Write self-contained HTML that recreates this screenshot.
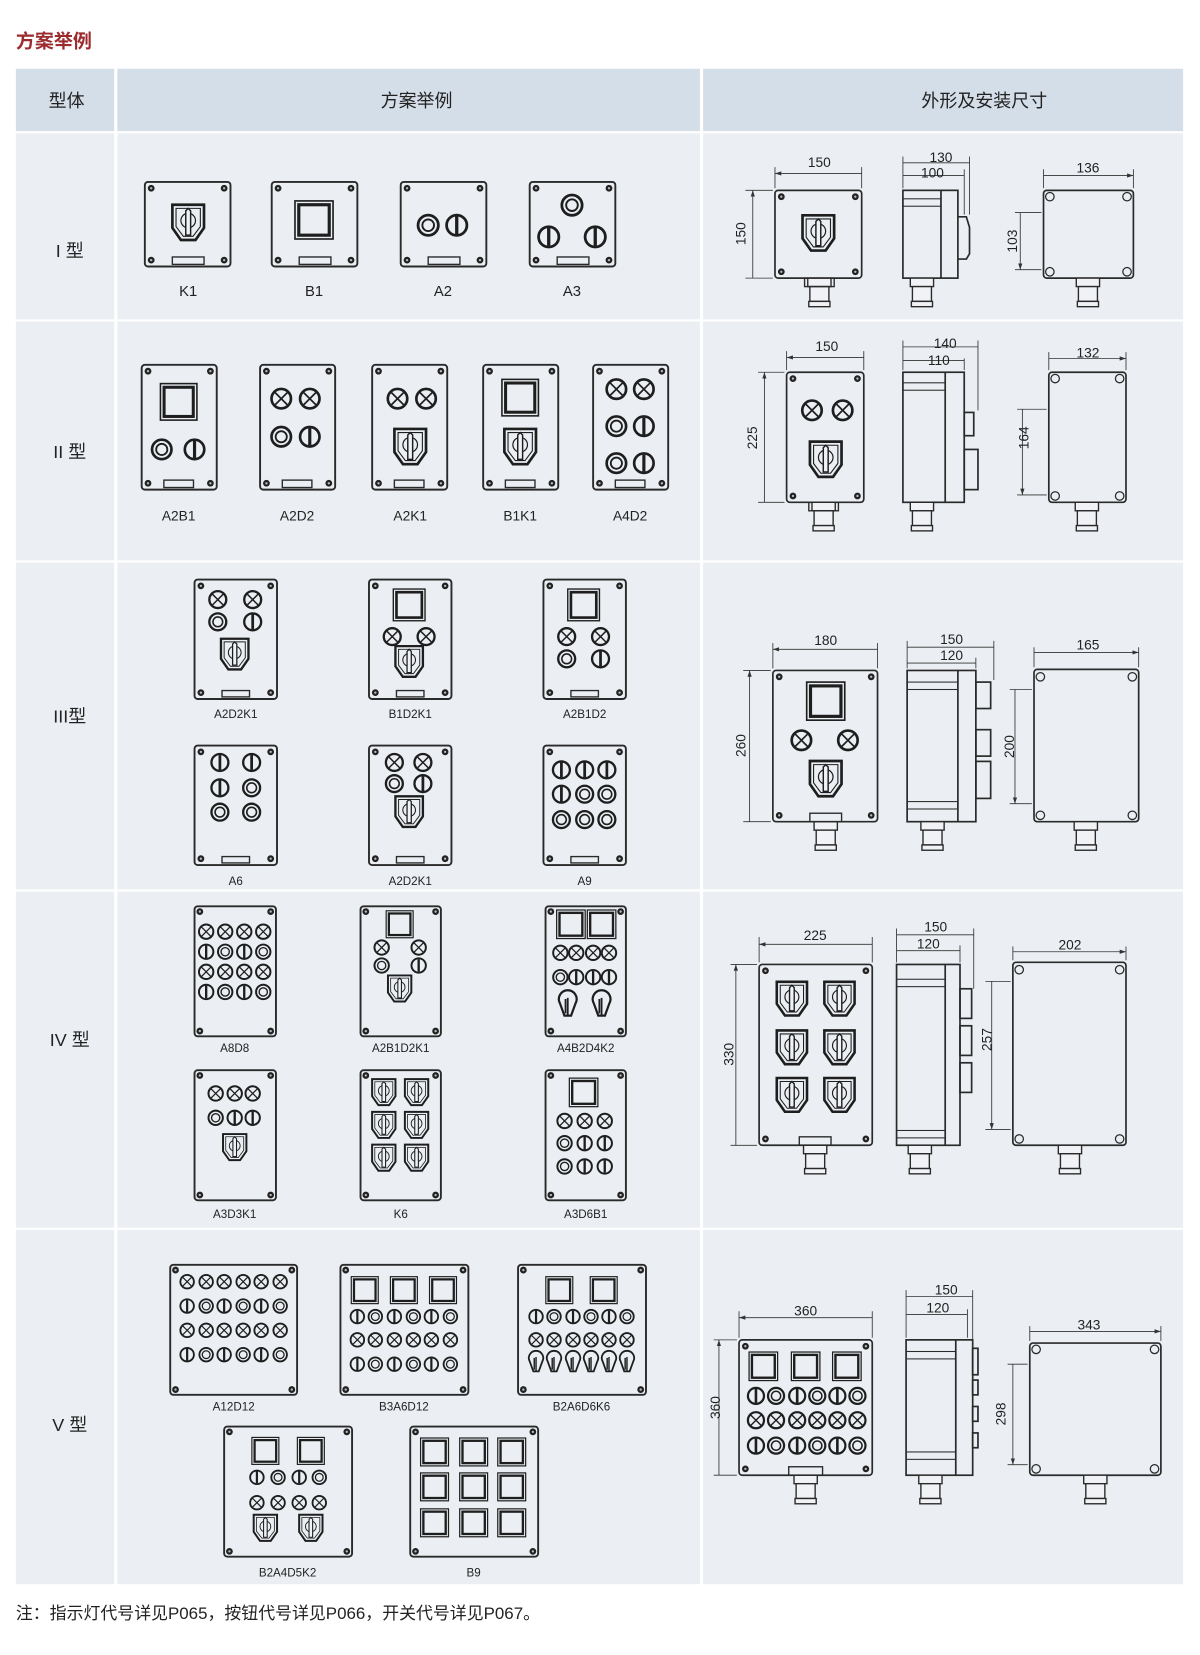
<!DOCTYPE html>
<html><head><meta charset="utf-8"><style>
html,body{margin:0;padding:0;background:#fff}
svg{display:block}
text{font-family:"Liberation Sans","Noto Sans CJK SC",sans-serif;fill:#222}
</style></head><body>
<svg width="1200" height="1655" viewBox="0 0 1135 1565" preserveAspectRatio="none" xmlns="http://www.w3.org/2000/svg">
<defs>
<marker id="ar" markerWidth="6" markerHeight="6" refX="6" refY="3" orient="auto-start-reverse" markerUnits="userSpaceOnUse"><path d="M0,1L6,3L0,5" fill="#333"/></marker>
<g id="x" fill="none" stroke="#1e1e1e"><circle r="8" stroke-width="2.2"/><path d="M-5,-5L5,5M5,-5L-5,5" stroke-width="1.4"/></g>
<g id="o" fill="none" stroke="#1e1e1e"><circle r="8" stroke-width="2.2"/><circle r="4.6" stroke-width="1.5"/></g>
<g id="i" fill="none" stroke="#1e1e1e"><circle r="8" stroke-width="2.2"/><path d="M0,-7V7" stroke-width="2.6"/></g>
<g id="n" fill="none" stroke="#1e1e1e"><path d="M-7,-3A8,8 0 1 1 7,-3L3,8H-3Z" stroke-width="2"/><path d="M0,-8V8M-2,-7V6" stroke-width="1.6"/></g>
<g id="k" fill="none" stroke="#1e1e1e"><path d="M-13,-16H13V3L6,13H-6L-13,3Z" stroke-width="2.2"/><path d="M-10,-13H10V2L4,10H-4L-10,2Z" stroke-width="0.9"/><circle cy="-3" r="6" stroke-width="1"/><path d="M-2,-11L0,-13L2,-11V9H-2Z" stroke-width="1.2" fill="#f0f2f5"/></g>
<g id="b" fill="none" stroke="#1e1e1e"><rect x="-15" y="-15" width="30" height="30" stroke-width="1.3"/><rect x="-12" y="-12" width="24" height="24" stroke-width="2.5"/></g>
<g id="sc"><circle r="3.2" fill="#222"/><circle r="1.1" fill="#bbb"/></g>
<g id="gl" fill="#f0f2f5" stroke="#2a2a2a" stroke-width="1.3"><rect x="-11" y="0" width="22" height="8"/><rect x="-9" y="8" width="18" height="14"/><rect x="-10" y="22" width="20" height="5"/></g>
</defs>

<text x="15" y="45" font-size="18" font-weight="bold" style="fill:#9b2b2f">方案举例</text>

<!-- table cells -->
<g fill="#d4dee8">
<rect x="15" y="65" width="93" height="59"/><rect x="111" y="65" width="551" height="59"/><rect x="665" y="65" width="454" height="59"/>
</g>
<g fill="#ebeff3">
<rect x="15" y="126" width="93" height="176"/><rect x="111" y="126" width="551" height="176"/><rect x="665" y="126" width="454" height="176"/>
<rect x="15" y="304" width="93" height="226"/><rect x="111" y="304" width="551" height="226"/><rect x="665" y="304" width="454" height="226"/>
<rect x="15" y="532" width="93" height="309"/><rect x="111" y="532" width="551" height="309"/><rect x="665" y="532" width="454" height="309"/>
<rect x="15" y="843" width="93" height="318"/><rect x="111" y="843" width="551" height="318"/><rect x="665" y="843" width="454" height="318"/>
<rect x="15" y="1163" width="93" height="335"/><rect x="111" y="1163" width="551" height="335"/><rect x="665" y="1163" width="454" height="335"/>
</g>
<g font-size="17" text-anchor="middle">
<text x="63" y="101">型体</text><text x="394" y="101">方案举例</text><text x="931" y="101">外形及安装尺寸</text>
</g>
<g font-size="17" text-anchor="middle" style="font-family:'Liberation Serif','Noto Sans CJK SC',serif">
<text x="66" y="243">I 型</text><text x="66" y="433">II 型</text><text x="66" y="683">III型</text><text x="66" y="989">IV 型</text><text x="66" y="1353">V 型</text>
</g>

<!-- panels -->
<g fill="none" stroke="#2a2a2a" stroke-width="1.8">
<!-- row I -->
<rect x="137" y="172" width="81" height="80" rx="3"/><rect x="257" y="172" width="81" height="80" rx="3"/><rect x="379" y="172" width="81" height="80" rx="3"/><rect x="501" y="172" width="81" height="80" rx="3"/>
<!-- row II -->
<rect x="134" y="345" width="71" height="118" rx="3"/><rect x="246" y="345" width="71" height="118" rx="3"/><rect x="352" y="345" width="71" height="118" rx="3"/><rect x="457" y="345" width="71" height="118" rx="3"/><rect x="561" y="345" width="71" height="118" rx="3"/>
<!-- row III -->
<rect x="184" y="548" width="78" height="113" rx="3"/><rect x="349" y="548" width="78" height="113" rx="3"/><rect x="514" y="548" width="78" height="113" rx="3"/>
<rect x="184" y="705" width="78" height="113" rx="3"/><rect x="349" y="705" width="78" height="113" rx="3"/><rect x="514" y="705" width="78" height="113" rx="3"/>
<!-- row IV -->
<rect x="184" y="857" width="77" height="123" rx="3"/><rect x="341" y="857" width="76" height="123" rx="3"/><rect x="516" y="857" width="76" height="123" rx="3"/>
<rect x="184" y="1012" width="77" height="123" rx="3"/><rect x="341" y="1012" width="76" height="123" rx="3"/><rect x="516" y="1012" width="76" height="123" rx="3"/>
<!-- row V -->
<rect x="161" y="1196" width="120" height="123" rx="3"/><rect x="322" y="1196" width="121" height="123" rx="3"/><rect x="490" y="1196" width="121" height="123" rx="3"/>
<rect x="212" y="1349" width="121" height="123" rx="3"/><rect x="388" y="1349" width="121" height="123" rx="3"/>
</g>
<!-- plates -->
<g fill="none" stroke="#2a2a2a" stroke-width="1.3">
<rect x="163" y="243" width="30" height="7"/><rect x="283" y="243" width="30" height="7"/><rect x="405" y="243" width="30" height="7"/><rect x="527" y="243" width="30" height="7"/>
<rect x="155" y="454" width="28" height="7"/><rect x="267" y="454" width="28" height="7"/><rect x="373" y="454" width="28" height="7"/><rect x="478" y="454" width="28" height="7"/><rect x="582" y="454" width="28" height="7"/>
<rect x="210" y="653" width="26" height="6"/><rect x="375" y="653" width="26" height="6"/><rect x="540" y="653" width="26" height="6"/>
<rect x="210" y="810" width="26" height="6"/><rect x="375" y="810" width="26" height="6"/><rect x="540" y="810" width="26" height="6"/>
</g>
<!-- screws -->
<g>
<use href="#sc" x="143" y="178"/><use href="#sc" x="212" y="178"/><use href="#sc" x="143" y="246"/><use href="#sc" x="212" y="246"/>
<use href="#sc" x="263" y="178"/><use href="#sc" x="332" y="178"/><use href="#sc" x="263" y="246"/><use href="#sc" x="332" y="246"/>
<use href="#sc" x="385" y="178"/><use href="#sc" x="454" y="178"/><use href="#sc" x="385" y="246"/><use href="#sc" x="454" y="246"/>
<use href="#sc" x="507" y="178"/><use href="#sc" x="576" y="178"/><use href="#sc" x="507" y="246"/><use href="#sc" x="576" y="246"/>

<use href="#sc" x="140" y="351"/><use href="#sc" x="199" y="351"/><use href="#sc" x="140" y="457"/><use href="#sc" x="199" y="457"/>
<use href="#sc" x="252" y="351"/><use href="#sc" x="311" y="351"/><use href="#sc" x="252" y="457"/><use href="#sc" x="311" y="457"/>
<use href="#sc" x="358" y="351"/><use href="#sc" x="417" y="351"/><use href="#sc" x="358" y="457"/><use href="#sc" x="417" y="457"/>
<use href="#sc" x="463" y="351"/><use href="#sc" x="522" y="351"/><use href="#sc" x="463" y="457"/><use href="#sc" x="522" y="457"/>
<use href="#sc" x="567" y="351"/><use href="#sc" x="626" y="351"/><use href="#sc" x="567" y="457"/><use href="#sc" x="626" y="457"/>

<use href="#sc" x="190" y="554"/><use href="#sc" x="256" y="554"/><use href="#sc" x="190" y="655"/><use href="#sc" x="256" y="655"/>
<use href="#sc" x="355" y="554"/><use href="#sc" x="421" y="554"/><use href="#sc" x="355" y="655"/><use href="#sc" x="421" y="655"/>
<use href="#sc" x="520" y="554"/><use href="#sc" x="586" y="554"/><use href="#sc" x="520" y="655"/><use href="#sc" x="586" y="655"/>
<use href="#sc" x="190" y="711"/><use href="#sc" x="256" y="711"/><use href="#sc" x="190" y="812"/><use href="#sc" x="256" y="812"/>
<use href="#sc" x="355" y="711"/><use href="#sc" x="421" y="711"/><use href="#sc" x="355" y="812"/><use href="#sc" x="421" y="812"/>
<use href="#sc" x="520" y="711"/><use href="#sc" x="586" y="711"/><use href="#sc" x="520" y="812"/><use href="#sc" x="586" y="812"/>

<use href="#sc" x="189" y="862"/><use href="#sc" x="256" y="862"/><use href="#sc" x="189" y="975"/><use href="#sc" x="256" y="975"/>
<use href="#sc" x="346" y="862"/><use href="#sc" x="412" y="862"/><use href="#sc" x="346" y="975"/><use href="#sc" x="412" y="975"/>
<use href="#sc" x="521" y="862"/><use href="#sc" x="587" y="862"/><use href="#sc" x="521" y="975"/><use href="#sc" x="587" y="975"/>
<use href="#sc" x="189" y="1017"/><use href="#sc" x="256" y="1017"/><use href="#sc" x="189" y="1130"/><use href="#sc" x="256" y="1130"/>
<use href="#sc" x="346" y="1017"/><use href="#sc" x="412" y="1017"/><use href="#sc" x="346" y="1130"/><use href="#sc" x="412" y="1130"/>
<use href="#sc" x="521" y="1017"/><use href="#sc" x="587" y="1017"/><use href="#sc" x="521" y="1130"/><use href="#sc" x="587" y="1130"/>

<use href="#sc" x="166" y="1201"/><use href="#sc" x="276" y="1201"/><use href="#sc" x="166" y="1314"/><use href="#sc" x="276" y="1314"/>
<use href="#sc" x="327" y="1201"/><use href="#sc" x="438" y="1201"/><use href="#sc" x="327" y="1314"/><use href="#sc" x="438" y="1314"/>
<use href="#sc" x="495" y="1201"/><use href="#sc" x="606" y="1201"/><use href="#sc" x="495" y="1314"/><use href="#sc" x="606" y="1314"/>
<use href="#sc" x="217" y="1354"/><use href="#sc" x="328" y="1354"/><use href="#sc" x="217" y="1467"/><use href="#sc" x="328" y="1467"/>
<use href="#sc" x="393" y="1354"/><use href="#sc" x="504" y="1354"/><use href="#sc" x="393" y="1467"/><use href="#sc" x="504" y="1467"/>
</g>

<!-- components row I -->
<use href="#k" transform="translate(178,212) scale(1.15)"/>
<use href="#b" transform="translate(297,208) scale(1.2)"/>
<use href="#o" transform="translate(405,213) scale(1.2)"/><use href="#i" transform="translate(432,213) scale(1.2)"/>
<use href="#o" transform="translate(541,194) scale(1.2)"/><use href="#i" transform="translate(519,224) scale(1.2)"/><use href="#i" transform="translate(563,224) scale(1.2)"/>
<!-- row II -->
<use href="#b" transform="translate(169,380) scale(1.15)"/><use href="#o" transform="translate(153,425) scale(1.15)"/><use href="#i" transform="translate(184,425) scale(1.15)"/>
<use href="#x" transform="translate(266,377) scale(1.15)"/><use href="#x" transform="translate(293,377) scale(1.15)"/><use href="#o" transform="translate(266,413) scale(1.15)"/><use href="#i" transform="translate(293,413) scale(1.15)"/>
<use href="#x" transform="translate(376,377) scale(1.15)"/><use href="#x" transform="translate(403,377) scale(1.15)"/><use href="#k" transform="translate(388,424) scale(1.15)"/>
<use href="#b" transform="translate(492,376) scale(1.15)"/><use href="#k" transform="translate(492,424) scale(1.15)"/>
<use href="#x" transform="translate(583,368) scale(1.15)"/><use href="#x" transform="translate(609,368) scale(1.15)"/><use href="#o" transform="translate(583,403) scale(1.15)"/><use href="#i" transform="translate(609,403) scale(1.15)"/><use href="#o" transform="translate(583,438) scale(1.15)"/><use href="#i" transform="translate(609,438) scale(1.15)"/>
<!-- row III -->
<use href="#x" x="206" y="567"/><use href="#x" x="239" y="567"/><use href="#o" x="206" y="588"/><use href="#i" x="239" y="588"/><use href="#k" x="222" y="620"/>
<use href="#b" x="387" y="572"/><use href="#x" x="371" y="602"/><use href="#x" x="403" y="602"/><use href="#k" x="387" y="627"/>
<use href="#b" x="552" y="572"/><use href="#x" x="536" y="602"/><use href="#x" x="568" y="602"/><use href="#o" x="536" y="623"/><use href="#i" x="568" y="623"/>
<use href="#i" x="208" y="721"/><use href="#i" x="238" y="721"/><use href="#i" x="208" y="745"/><use href="#o" x="238" y="745"/><use href="#o" x="208" y="768"/><use href="#o" x="238" y="768"/>
<use href="#x" x="373" y="721"/><use href="#x" x="400" y="721"/><use href="#o" x="373" y="741"/><use href="#i" x="400" y="741"/><use href="#k" x="387" y="769"/>
<use href="#i" x="531" y="728"/><use href="#i" x="553" y="728"/><use href="#i" x="574" y="728"/><use href="#i" x="531" y="751"/><use href="#o" x="553" y="751"/><use href="#o" x="574" y="751"/><use href="#o" x="531" y="775"/><use href="#o" x="553" y="775"/><use href="#o" x="574" y="775"/>
<!-- row IV -->
<g transform="translate(0,0)">
<use href="#x" transform="translate(195,881) scale(.85)"/><use href="#x" transform="translate(213,881) scale(.85)"/><use href="#x" transform="translate(231,881) scale(.85)"/><use href="#x" transform="translate(249,881) scale(.85)"/>
<use href="#i" transform="translate(195,900) scale(.85)"/><use href="#o" transform="translate(213,900) scale(.85)"/><use href="#i" transform="translate(231,900) scale(.85)"/><use href="#o" transform="translate(249,900) scale(.85)"/>
<use href="#x" transform="translate(195,919) scale(.85)"/><use href="#x" transform="translate(213,919) scale(.85)"/><use href="#x" transform="translate(231,919) scale(.85)"/><use href="#x" transform="translate(249,919) scale(.85)"/>
<use href="#i" transform="translate(195,938) scale(.85)"/><use href="#o" transform="translate(213,938) scale(.85)"/><use href="#i" transform="translate(231,938) scale(.85)"/><use href="#o" transform="translate(249,938) scale(.85)"/>
<use href="#b" transform="translate(378,874) scale(.85)"/><use href="#x" transform="translate(361,896) scale(.85)"/><use href="#x" transform="translate(396,896) scale(.85)"/><use href="#o" transform="translate(361,913) scale(.85)"/><use href="#i" transform="translate(396,913) scale(.85)"/><use href="#k" transform="translate(378,936) scale(.85)"/>
<use href="#b" transform="translate(540,874) scale(.9)"/><use href="#b" transform="translate(569,874) scale(.9)"/>
<use href="#x" transform="translate(530,901) scale(.85)"/><use href="#x" transform="translate(545,901) scale(.85)"/><use href="#x" transform="translate(561,901) scale(.85)"/><use href="#x" transform="translate(576,901) scale(.85)"/>
<use href="#o" transform="translate(530,924) scale(.85)"/><use href="#i" transform="translate(545,924) scale(.85)"/><use href="#i" transform="translate(561,924) scale(.85)"/><use href="#i" transform="translate(576,924) scale(.85)"/>
<use href="#n" transform="translate(537,952) scale(1.05)"/><use href="#n" transform="translate(569,952) scale(1.05)"/>
<use href="#x" transform="translate(204,1034) scale(.85)"/><use href="#x" transform="translate(222,1034) scale(.85)"/><use href="#x" transform="translate(239,1034) scale(.85)"/>
<use href="#o" transform="translate(204,1057) scale(.85)"/><use href="#i" transform="translate(222,1057) scale(.85)"/><use href="#i" transform="translate(239,1057) scale(.85)"/>
<use href="#k" transform="translate(222,1086) scale(.85)"/>
<use href="#k" transform="translate(363,1034) scale(.85)"/><use href="#k" transform="translate(394,1034) scale(.85)"/><use href="#k" transform="translate(363,1065) scale(.85)"/><use href="#k" transform="translate(394,1065) scale(.85)"/><use href="#k" transform="translate(363,1096) scale(.85)"/><use href="#k" transform="translate(394,1096) scale(.85)"/>
<use href="#b" transform="translate(552,1033) scale(.9)"/>
<use href="#x" transform="translate(534,1060) scale(.85)"/><use href="#x" transform="translate(553,1060) scale(.85)"/><use href="#x" transform="translate(572,1060) scale(.85)"/>
<use href="#o" transform="translate(534,1081) scale(.85)"/><use href="#i" transform="translate(553,1081) scale(.85)"/><use href="#i" transform="translate(572,1081) scale(.85)"/>
<use href="#o" transform="translate(534,1103) scale(.85)"/><use href="#i" transform="translate(553,1103) scale(.85)"/><use href="#i" transform="translate(572,1103) scale(.85)"/>
</g>
<!-- row V -->
<g>
<use href="#x" transform="translate(177,1212) scale(.8)"/><use href="#x" transform="translate(195,1212) scale(.8)"/><use href="#x" transform="translate(212,1212) scale(.8)"/><use href="#x" transform="translate(230,1212) scale(.8)"/><use href="#x" transform="translate(247,1212) scale(.8)"/><use href="#x" transform="translate(265,1212) scale(.8)"/>
<use href="#i" transform="translate(177,1235) scale(.8)"/><use href="#o" transform="translate(195,1235) scale(.8)"/><use href="#i" transform="translate(212,1235) scale(.8)"/><use href="#o" transform="translate(230,1235) scale(.8)"/><use href="#i" transform="translate(247,1235) scale(.8)"/><use href="#o" transform="translate(265,1235) scale(.8)"/>
<use href="#x" transform="translate(177,1258) scale(.8)"/><use href="#x" transform="translate(195,1258) scale(.8)"/><use href="#x" transform="translate(212,1258) scale(.8)"/><use href="#x" transform="translate(230,1258) scale(.8)"/><use href="#x" transform="translate(247,1258) scale(.8)"/><use href="#x" transform="translate(265,1258) scale(.8)"/>
<use href="#i" transform="translate(177,1281) scale(.8)"/><use href="#o" transform="translate(195,1281) scale(.8)"/><use href="#i" transform="translate(212,1281) scale(.8)"/><use href="#o" transform="translate(230,1281) scale(.8)"/><use href="#i" transform="translate(247,1281) scale(.8)"/><use href="#o" transform="translate(265,1281) scale(.8)"/>

<use href="#b" transform="translate(345,1220) scale(.85)"/><use href="#b" transform="translate(382,1220) scale(.85)"/><use href="#b" transform="translate(419,1220) scale(.85)"/>
<use href="#i" transform="translate(338,1245) scale(.8)"/><use href="#o" transform="translate(355,1245) scale(.8)"/><use href="#i" transform="translate(373,1245) scale(.8)"/><use href="#o" transform="translate(391,1245) scale(.8)"/><use href="#i" transform="translate(408,1245) scale(.8)"/><use href="#o" transform="translate(426,1245) scale(.8)"/>
<use href="#x" transform="translate(338,1267) scale(.8)"/><use href="#x" transform="translate(355,1267) scale(.8)"/><use href="#x" transform="translate(373,1267) scale(.8)"/><use href="#x" transform="translate(391,1267) scale(.8)"/><use href="#x" transform="translate(408,1267) scale(.8)"/><use href="#x" transform="translate(426,1267) scale(.8)"/>
<use href="#i" transform="translate(338,1290) scale(.8)"/><use href="#o" transform="translate(355,1290) scale(.8)"/><use href="#i" transform="translate(373,1290) scale(.8)"/><use href="#o" transform="translate(391,1290) scale(.8)"/><use href="#i" transform="translate(408,1290) scale(.8)"/><use href="#o" transform="translate(426,1290) scale(.8)"/>

<use href="#b" transform="translate(529,1220) scale(.85)"/><use href="#b" transform="translate(571,1220) scale(.85)"/>
<use href="#i" transform="translate(507,1245) scale(.8)"/><use href="#o" transform="translate(524,1245) scale(.8)"/><use href="#i" transform="translate(542,1245) scale(.8)"/><use href="#o" transform="translate(559,1245) scale(.8)"/><use href="#i" transform="translate(576,1245) scale(.8)"/><use href="#o" transform="translate(593,1245) scale(.8)"/>
<use href="#x" transform="translate(507,1267) scale(.8)"/><use href="#x" transform="translate(524,1267) scale(.8)"/><use href="#x" transform="translate(542,1267) scale(.8)"/><use href="#x" transform="translate(559,1267) scale(.8)"/><use href="#x" transform="translate(576,1267) scale(.8)"/><use href="#x" transform="translate(593,1267) scale(.8)"/>
<use href="#n" transform="translate(507,1290) scale(.85)"/><use href="#n" transform="translate(524,1290) scale(.85)"/><use href="#n" transform="translate(542,1290) scale(.85)"/><use href="#n" transform="translate(559,1290) scale(.85)"/><use href="#n" transform="translate(576,1290) scale(.85)"/><use href="#n" transform="translate(593,1290) scale(.85)"/>

<use href="#b" transform="translate(251,1372) scale(.85)"/><use href="#b" transform="translate(294,1372) scale(.85)"/>
<use href="#i" transform="translate(243,1397) scale(.8)"/><use href="#o" transform="translate(263,1397) scale(.8)"/><use href="#i" transform="translate(283,1397) scale(.8)"/><use href="#o" transform="translate(302,1397) scale(.8)"/>
<use href="#x" transform="translate(243,1421) scale(.8)"/><use href="#x" transform="translate(263,1421) scale(.8)"/><use href="#x" transform="translate(283,1421) scale(.8)"/><use href="#x" transform="translate(302,1421) scale(.8)"/>
<use href="#k" transform="translate(251,1446) scale(.85)"/><use href="#k" transform="translate(294,1446) scale(.85)"/>

<use href="#b" transform="translate(411,1373) scale(.88)"/><use href="#b" transform="translate(448,1373) scale(.88)"/><use href="#b" transform="translate(484,1373) scale(.88)"/>
<use href="#b" transform="translate(411,1406) scale(.88)"/><use href="#b" transform="translate(448,1406) scale(.88)"/><use href="#b" transform="translate(484,1406) scale(.88)"/>
<use href="#b" transform="translate(411,1440) scale(.88)"/><use href="#b" transform="translate(448,1440) scale(.88)"/><use href="#b" transform="translate(484,1440) scale(.88)"/>
</g>

<!-- labels -->
<g font-size="14" text-anchor="middle">
<text x="178" y="280">K1</text><text x="297" y="280">B1</text><text x="419" y="280">A2</text><text x="541" y="280">A3</text>
</g>
<g font-size="13" text-anchor="middle">
<text x="169" y="492">A2B1</text><text x="281" y="492">A2D2</text><text x="388" y="492">A2K1</text><text x="492" y="492">B1K1</text><text x="596" y="492">A4D2</text>
</g>
<g font-size="11" text-anchor="middle">
<text x="223" y="679">A2D2K1</text><text x="388" y="679">B1D2K1</text><text x="553" y="679">A2B1D2</text>
<text x="223" y="837">A6</text><text x="388" y="837">A2D2K1</text><text x="553" y="837">A9</text>
<text x="222" y="995">A8D8</text><text x="379" y="995">A2B1D2K1</text><text x="554" y="995">A4B2D4K2</text>
<text x="222" y="1152">A3D3K1</text><text x="379" y="1152">K6</text><text x="554" y="1152">A3D6B1</text>
<text x="221" y="1334">A12D12</text><text x="382" y="1334">B3A6D12</text><text x="550" y="1334">B2A6D6K6</text>
<text x="272" y="1491">B2A4D5K2</text><text x="448" y="1491">B9</text>
</g>

<!-- right side drawings -->
<g fill="none" stroke="#2a2a2a" stroke-width="1.6">
<!-- I -->
<rect x="733" y="180" width="82" height="83" rx="3"/>
<rect x="854" y="180" width="52" height="83"/><line x1="890" y1="180" x2="890" y2="263"/><path d="M906,205H914L917,215V240L914,245H906"/><rect x="854" y="188" width="36" height="7" stroke-width="1"/>
<rect x="987" y="180" width="85" height="83" rx="3"/>
<!-- II -->
<rect x="744" y="352" width="73" height="123" rx="3"/>
<rect x="854" y="352" width="58" height="123"/><line x1="894" y1="352" x2="894" y2="475"/><rect x="854" y="362" width="40" height="7" stroke-width="1"/><rect x="912" y="390" width="9" height="22"/><rect x="912" y="425" width="13" height="38"/>
<rect x="992" y="352" width="73" height="123" rx="3"/>
<!-- III -->
<rect x="731" y="634" width="99" height="143" rx="3"/>
<rect x="858" y="634" width="65" height="143"/><line x1="906" y1="634" x2="906" y2="777"/><rect x="858" y="645" width="48" height="7" stroke-width="1"/><rect x="858" y="758" width="48" height="7" stroke-width="1"/><rect x="923" y="645" width="14" height="25"/><rect x="923" y="690" width="14" height="25"/><rect x="923" y="720" width="14" height="35"/>
<rect x="978" y="633" width="99" height="144" rx="3"/>
<!-- IV -->
<rect x="718" y="912" width="107" height="171" rx="3"/>
<rect x="848" y="912" width="60" height="171"/><line x1="894" y1="912" x2="894" y2="1083"/><rect x="848" y="957" width="46" height="7" stroke-width="1" transform="translate(0,-31)"/><rect x="848" y="1069" width="46" height="7" stroke-width="1"/><rect x="908" y="935" width="11" height="28"/><rect x="908" y="970" width="11" height="28"/><rect x="908" y="1005" width="11" height="28"/>
<rect x="958" y="910" width="107" height="173" rx="3"/>
<!-- V -->
<rect x="699" y="1267" width="126" height="128" rx="3"/>
<rect x="857" y="1267" width="63" height="128"/><line x1="904" y1="1267" x2="904" y2="1395"/><rect x="857" y="1278" width="47" height="7" stroke-width="1"/><rect x="857" y="1373" width="47" height="7" stroke-width="1"/><rect x="920" y="1275" width="5" height="25"/><rect x="920" y="1305" width="5" height="14"/><rect x="920" y="1330" width="5" height="14"/><rect x="920" y="1355" width="5" height="14"/>
<rect x="974" y="1270" width="124" height="125" rx="3"/>
</g>
<!-- back mounting slots -->
<g fill="none" stroke="#2a2a2a" stroke-width="1.2">
<circle cx="993" cy="186" r="4"/><circle cx="1066" cy="186" r="4"/><circle cx="993" cy="257" r="4"/><circle cx="1066" cy="257" r="4"/>
<circle cx="998" cy="358" r="4"/><circle cx="1059" cy="358" r="4"/><circle cx="998" cy="469" r="4"/><circle cx="1059" cy="469" r="4"/>
<circle cx="984" cy="640" r="4"/><circle cx="1071" cy="640" r="4"/><circle cx="984" cy="771" r="4"/><circle cx="1071" cy="771" r="4"/>
<circle cx="964" cy="917" r="4"/><circle cx="1059" cy="917" r="4"/><circle cx="964" cy="1077" r="4"/><circle cx="1059" cy="1077" r="4"/>
<circle cx="980" cy="1276" r="4"/><circle cx="1092" cy="1276" r="4"/><circle cx="980" cy="1389" r="4"/><circle cx="1092" cy="1389" r="4"/>
</g>
<!-- front screws right -->
<g>
<use href="#sc" x="739" y="186"/><use href="#sc" x="809" y="186"/><use href="#sc" x="739" y="257"/><use href="#sc" x="809" y="257"/>
<use href="#sc" x="750" y="358"/><use href="#sc" x="811" y="358"/><use href="#sc" x="750" y="469"/><use href="#sc" x="811" y="469"/>
<use href="#sc" x="737" y="640"/><use href="#sc" x="824" y="640"/><use href="#sc" x="737" y="771"/><use href="#sc" x="824" y="771"/>
<use href="#sc" x="724" y="918"/><use href="#sc" x="819" y="918"/><use href="#sc" x="724" y="1077"/><use href="#sc" x="819" y="1077"/>
<use href="#sc" x="705" y="1273"/><use href="#sc" x="819" y="1273"/><use href="#sc" x="705" y="1389"/><use href="#sc" x="819" y="1389"/>
</g>
<!-- front comps -->
<use href="#k" transform="translate(774,222) scale(1.15)"/>
<use href="#x" transform="translate(768,388) scale(1.15)"/><use href="#x" transform="translate(797,388) scale(1.15)"/><use href="#k" transform="translate(781,436) scale(1.15)"/>
<use href="#b" transform="translate(781,663) scale(1.2)"/><use href="#x" transform="translate(758,700) scale(1.15)"/><use href="#x" transform="translate(802,700) scale(1.15)"/><use href="#k" transform="translate(781,738) scale(1.15)"/>
<use href="#k" transform="translate(749,946) scale(1.1)"/><use href="#k" transform="translate(794,946) scale(1.1)"/><use href="#k" transform="translate(749,992) scale(1.1)"/><use href="#k" transform="translate(794,992) scale(1.1)"/><use href="#k" transform="translate(749,1037) scale(1.1)"/><use href="#k" transform="translate(794,1037) scale(1.1)"/>
<use href="#b" transform="translate(722,1292) scale(.9)"/><use href="#b" transform="translate(762,1292) scale(.9)"/><use href="#b" transform="translate(801,1292) scale(.9)"/>
<use href="#i" transform="translate(715,1320) scale(.95)"/><use href="#o" transform="translate(734,1320) scale(.95)"/><use href="#i" transform="translate(754,1320) scale(.95)"/><use href="#o" transform="translate(773,1320) scale(.95)"/><use href="#i" transform="translate(792,1320) scale(.95)"/><use href="#o" transform="translate(811,1320) scale(.95)"/>
<use href="#x" transform="translate(715,1343) scale(.95)"/><use href="#x" transform="translate(734,1343) scale(.95)"/><use href="#x" transform="translate(754,1343) scale(.95)"/><use href="#x" transform="translate(773,1343) scale(.95)"/><use href="#x" transform="translate(792,1343) scale(.95)"/><use href="#x" transform="translate(811,1343) scale(.95)"/>
<use href="#i" transform="translate(715,1367) scale(.95)"/><use href="#o" transform="translate(734,1367) scale(.95)"/><use href="#i" transform="translate(754,1367) scale(.95)"/><use href="#o" transform="translate(773,1367) scale(.95)"/><use href="#i" transform="translate(792,1367) scale(.95)"/><use href="#o" transform="translate(811,1367) scale(.95)"/>
<!-- glands -->
<use href="#gl" x="775" y="263"/><use href="#gl" x="872" y="263"/><use href="#gl" x="1029" y="263"/>
<use href="#gl" x="779" y="475"/><use href="#gl" x="872" y="475"/><use href="#gl" x="1028" y="475"/>
<use href="#gl" x="781" y="777"/><use href="#gl" x="882" y="777"/><use href="#gl" x="1027" y="777"/>
<use href="#gl" x="771" y="1083"/><use href="#gl" x="870" y="1083"/><use href="#gl" x="1012" y="1083"/>
<use href="#gl" x="762" y="1395"/><use href="#gl" x="880" y="1395"/><use href="#gl" x="1036" y="1395"/>
<g fill="none" stroke="#2a2a2a" stroke-width="1.3">
<rect x="761" y="263" width="28" height="8"/><rect x="765" y="475" width="28" height="8"/><rect x="766" y="769" width="30" height="8"/><rect x="756" y="1075" width="30" height="8"/><rect x="746" y="1387" width="32" height="8"/>
</g>

<!-- dimension lines -->
<g stroke="#333" stroke-width="0.8" fill="none">
<path d="M733,178V158M815,178V158M854,178V148M917,203V148M912,203V160M987,178V160M1072,178V160"/>
<path d="M733,164H815M854,154H917M854,166H912M987,166H1072" marker-start="url(#ar)" marker-end="url(#ar)"/>
<path d="M731,180H705M731,263H705M985,201H960M985,255H960"/>
<path d="M712,180V263M965,201V255" marker-start="url(#ar)" marker-end="url(#ar)"/>

<path d="M744,350V332M817,350V332M854,350V322M925,388V322M912,350V339M992,350V333M1065,350V333"/>
<path d="M744,338H817M854,328H925M854,341H912M992,339H1065" marker-start="url(#ar)" marker-end="url(#ar)"/>
<path d="M742,352H717M742,475H717M990,387H962M990,468H962"/>
<path d="M723,352V475M967,387V468" marker-start="url(#ar)" marker-end="url(#ar)"/>

<path d="M731,632V608M830,632V608M858,632V606M940,643V606M923,632V622M978,631V612M1077,631V612"/>
<path d="M731,614H830M858,612H940M858,627H923M978,617H1077" marker-start="url(#ar)" marker-end="url(#ar)"/>
<path d="M729,634H703M729,777H703M976,652H955M976,760H955"/>
<path d="M709,634V777M960,652V760" marker-start="url(#ar)" marker-end="url(#ar)"/>

<path d="M718,910V886M825,910V886M848,910V878M921,935V878M908,910V894M958,908V895M1065,908V895"/>
<path d="M718,893H825M848,884H921M848,899H908M958,900H1065" marker-start="url(#ar)" marker-end="url(#ar)"/>
<path d="M716,912H691M716,1083H691M956,928H932M956,1068H932"/>
<path d="M696,912V1083M938,928V1068" marker-start="url(#ar)" marker-end="url(#ar)"/>

<path d="M699,1265V1240M825,1265V1240M857,1265V1220M920,1275V1220M915,1265V1238M974,1268V1254M1098,1268V1254"/>
<path d="M699,1246H825M857,1226H920M857,1243H915M974,1259H1098" marker-start="url(#ar)" marker-end="url(#ar)"/>
<path d="M697,1267H675M697,1395H675M972,1290H953M972,1385H953"/>
<path d="M680,1267V1395M958,1290V1385" marker-start="url(#ar)" marker-end="url(#ar)"/>
</g>
<g font-size="13" text-anchor="middle">
<text x="775" y="158">150</text><text x="890" y="153">130</text><text x="882" y="168">100</text><text x="1029" y="163">136</text>
<text x="782" y="332">150</text><text x="894" y="329">140</text><text x="888" y="345">110</text><text x="1029" y="338">132</text>
<text x="781" y="610">180</text><text x="900" y="609">150</text><text x="900" y="624">120</text><text x="1029" y="614">165</text>
<text x="771" y="889">225</text><text x="885" y="881">150</text><text x="878" y="897">120</text><text x="1012" y="898">202</text>
<text x="762" y="1244">360</text><text x="895" y="1224">150</text><text x="887" y="1241">120</text><text x="1030" y="1257">343</text>
<text transform="translate(705,221) rotate(-90)">150</text><text transform="translate(962,228) rotate(-90)">103</text>
<text transform="translate(716,414) rotate(-90)">225</text><text transform="translate(973,414) rotate(-90)">164</text>
<text transform="translate(705,705) rotate(-90)">260</text><text transform="translate(959,706) rotate(-90)">200</text>
<text transform="translate(694,997) rotate(-90)">330</text><text transform="translate(938,983) rotate(-90)">257</text>
<text transform="translate(681,1331) rotate(-90)">360</text><text transform="translate(951,1337) rotate(-90)">298</text>
</g>

<text x="15" y="1531" font-size="16">注：指示灯代号详见P065，按钮代号详见P066，开关代号详见P067。</text>
</svg>
</body></html>
